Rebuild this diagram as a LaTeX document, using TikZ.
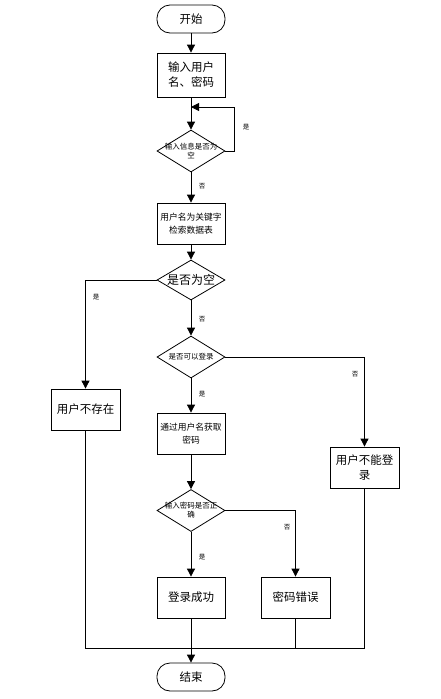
\documentclass[tikz,border=0pt]{standalone}
\usepackage{fontspec}
\setmainfont{Noto Sans CJK SC}
\usetikzlibrary{shapes.geometric,arrows.meta}
\tikzset{
    proc-box/.style = {draw, thick, rectangle, minimum width=68pt, minimum height=41pt, align=center, inner sep=1pt, font=\fontsize{11.5}{15}\selectfont},
    small-box/.style = {proc-box, font=\fontsize{8.75}{13}\selectfont},
    term-box/.style = {draw, thick, rectangle, rounded corners=13pt, minimum width=68pt, minimum height=28pt, font=\fontsize{11.5}{14}\selectfont},
    decision/.style = {draw, thick, diamond, minimum width=68pt, minimum height=42pt, inner sep=0pt},
    small-text/.style = {align=center, font=\fontsize{7.5}{9}\selectfont, inner sep=0pt},
    big-text/.style = {align=center, font=\fontsize{12}{13}\selectfont, inner sep=0pt},
    branch-label/.style = {font=\fontsize{6.5}{7}\selectfont, inner sep=0pt},
    flow/.style = {thick, -{Triangle[length=8pt,width=8pt]}},
}
\begin{document}
\begin{tikzpicture}[x=1pt,y=-1pt]
\useasboundingbox (0,0) rectangle (440,699);
\node[term-box] (start) at (191,19) {开始};
\node[proc-box, minimum height=44pt] (input) at (191,75) {输入用户\\名、密码};
\node[decision, label={[small-text]center:输入信息是否为\\空}] (chk-empty) at (191,151) {};
\node[small-box] (search) at (191,223.5) {用户名为关键字\\检索数据表};
\node[decision, minimum height=40pt, label={[big-text]center:是否为空}] (is-empty) at (191,280) {};
\node[decision, label={[small-text]center:是否可以登录}] (can-login) at (191,357) {};
\node[proc-box, minimum width=69pt] (no-user) at (85.5,409.5) {用户不存在};
\node[small-box] (fetch) at (191,433.5) {通过用户名获取\\密码};
\node[proc-box, minimum width=69pt] (no-login) at (364.5,467.5) {用户不能登\\录};
\node[decision, label={[small-text]center:输入密码是否正\\确}] (chk-pwd) at (191,510.5) {};
\node[proc-box] (success) at (191,597.5) {登录成功};
\node[proc-box, minimum width=69pt] (pwd-err) at (295.5,597.5) {密码错误};
\node[term-box] (end) at (191,677) {结束};

\coordinate (loop-in) at (191,107);
\coordinate (loop-top) at (234,107);
\coordinate (join) at (191,648);

\draw[flow] (start) -- (input);
\draw[flow] (input) -- (chk-empty);
\draw[flow] (chk-empty.east) -| (loop-top) -- (loop-in);
\draw[flow] (chk-empty) -- (search);
\draw[flow] (search) -- (is-empty);
\draw[flow] (is-empty.west) -| (no-user);
\draw[flow] (is-empty) -- (can-login);
\draw[flow] (can-login.east) -| (no-login);
\draw[flow] (can-login) -- (fetch);
\draw[flow] (fetch) -- (chk-pwd);
\draw[flow] (chk-pwd.east) -| (pwd-err);
\draw[flow] (chk-pwd) -- (success);
\draw[thick] (no-user) |- (join);
\draw[thick] (no-login) |- (join);
\draw[thick] (pwd-err) |- (join);
\draw[flow] (success) -- (end);

\node[branch-label] (yes-loop) at (246,127) {是};
\node[branch-label] (no-empty) at (202,186) {否};
\node[branch-label] (yes-empty) at (96,297) {是};
\node[branch-label] (no-isempty) at (202,319) {否};
\node[branch-label] (no-login-lbl) at (355,374) {否};
\node[branch-label] (yes-login) at (202,394) {是};
\node[branch-label] (no-pwd) at (287,527) {否};
\node[branch-label] (yes-pwd) at (202,557) {是};
\end{tikzpicture}
\end{document}
